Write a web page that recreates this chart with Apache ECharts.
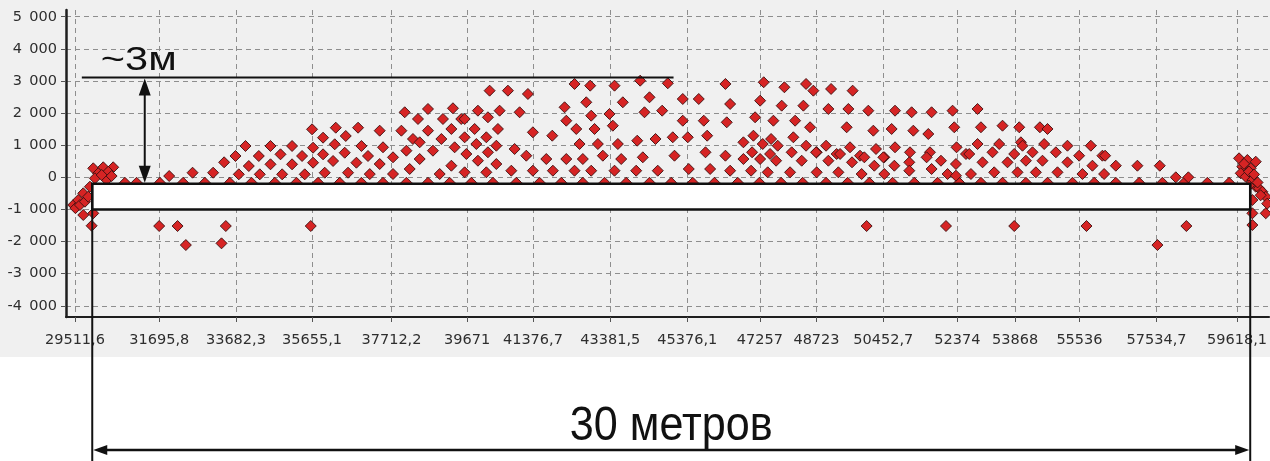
<!DOCTYPE html>
<html>
<head>
<meta charset="utf-8">
<script src="https://cdn.jsdelivr.net/npm/echarts@6/dist/echarts.min.js"></script>
<style>
  html, body { margin: 0; padding: 0; background: #ffffff; }
  #chart { width: 1270px; height: 461px; }
</style>
</head>
<body>
<div id="chart"></div>
<script>
// Station positions (mm) shown on the horizontal axis
const xTickValues = [29511.6, 31695.8, 33682.3, 35655.1, 37712.2, 39671, 41376.7, 43381.5,
  45376.1, 47257, 48723, 50452.7, 52374, 53868, 55536, 57534.7, 59618.1];
// Height ticks (mm)
const yTickValues = [-4000, -3000, -2000, -1000, 0, 1000, 2000, 3000, 4000, 5000];

// Measured points: [position, height]
const leftEdgePoints = [
  [29468, -863], [29525, -960], [29597, -707], [29641, -863], [29727, -498], [29771, -760],
  [29856, -604], [29727, -1174], [29986, -1121], [29944, -1508], [29900, -293], [29986, 280],
  [30245, 312], [30503, 312], [30115, 125], [30374, 174], [30030, -31], [30333, -84],
  [30203, 72], [30462, 40]
];

const bedSurfacePoints = [
  [30806, -170], [31109, -170], [31712, -170], [32315, -170], [32877, -170], [33524, -170],
  [34086, -170], [34689, -170], [35251, -170], [35810, -170], [36372, -170], [36933, -170],
  [37493, -170], [38099, -170], [38658, -170], [39219, -170], [39781, -170], [40341, -170],
  [40946, -170], [41549, -170], [42111, -170], [42670, -170], [43232, -170], [43793, -170],
  [44397, -170], [44959, -170], [45518, -170], [46079, -170], [46683, -170], [47244, -170],
  [47806, -170], [48365, -170], [48971, -170], [49530, -170], [50092, -170], [50695, -170],
  [51257, -170], [51860, -170], [52422, -170], [52984, -170], [53543, -170], [54149, -170],
  [54708, -170], [55356, -170], [55917, -170], [56478, -170], [57082, -170], [57685, -170],
  [58247, -170], [58850, -170], [59412, -170]
];

const risingSlopePoints = [
  [31953, 40], [32559, 143], [33092, 143], [33377, 467], [33671, 664], [33930, 975],
  [33757, 93], [34016, 352], [34275, 664], [34578, 975], [34301, 93], [34578, 405],
  [34837, 716], [35137, 975], [34880, 93], [35137, 405], [35396, 664], [35655, 1495],
  [35681, 922], [35940, 1234], [36269, 1545], [36528, 1287], [36847, 1545], [36242, 1028],
  [36501, 766], [36199, 508], [35940, 716], [35681, 455], [35465, 93], [35983, 143],
  [36587, 143], [36804, 455], [36934, 975], [37150, 100], [37104, 664]
];

const crestWestPoints = [
  [40255, 2698], [40729, 2698], [41247, 2595], [42455, 2907], [42861, 2854], [43491, 2854],
  [44156, 3009], [44871, 2928],
  [38055, 2025], [38658, 2128], [39305, 2150], [39952, 2075], [40514, 2075], [41032, 2025],
  [38399, 1816], [39046, 1816], [39520, 1816], [39608, 1816], [40211, 1869],
  [37407, 1452], [37969, 1452], [38658, 1452], [39264, 1505], [39867, 1505], [40470, 1505],
  [38269, 1193], [38443, 1090], [39005, 1193], [39608, 1246], [40170, 1246],
  [37493, 935], [38099, 829], [38787, 829], [39349, 935], [39911, 1037], [40429, 984], [40902, 882],
  [37752, 623], [38443, 570], [39652, 726], [39952, 517], [40211, 779], [41205, 673],
  [41723, 570], [42241, 570], [42670, 570], [43188, 673], [43664, 570], [44224, 623],
  [37752, 103], [38184, 259], [38961, 103], [39264, 361], [39608, 156], [40170, 156],
  [40429, 414], [40817, 206], [41376, 206], [41894, 206], [42455, 206], [42887, 206],
  [43491, 206], [44052, 206], [44611, 206], [37407, 414],
  [42197, 2181], [42759, 2336], [42887, 1919], [43361, 1972], [43706, 2336], [44267, 2025],
  [44725, 2075], [44397, 2492],
  [42241, 1763], [42500, 1505], [42973, 1505], [43447, 1607], [41376, 1402], [41878, 1296],
  [42585, 1037], [43059, 1037], [43577, 1037], [44079, 1140], [44553, 1193]
];

const crestEastPoints = [
  [46364, 2907], [47356, 2960], [47892, 2804], [48453, 2907], [48642, 2698], [49101, 2751],
  [49660, 2698],
  [45259, 2439], [45673, 2439], [46486, 2283], [47263, 2386], [47822, 2231], [48384, 2231],
  [49031, 2128], [49549, 2128], [50066, 2075], [50758, 2075], [51188, 2025], [51705, 2025],
  [52249, 2075],
  [45259, 1763], [45803, 1763], [46398, 1713], [47133, 1869], [47607, 1763], [48169, 1763],
  [48557, 1558], [49505, 1558], [50196, 1452], [50670, 1505], [51232, 1452], [51620, 1349],
  [52293, 1558],
  [45000, 1246], [45389, 1246], [45891, 1296], [46830, 1090], [47089, 1296], [47330, 1037],
  [47547, 1193], [47718, 984], [48124, 1246], [48453, 984], [48728, 779], [48971, 984],
  [49245, 726], [49592, 935], [49851, 673], [50265, 882], [50480, 623], [50758, 935],
  [51146, 779], [51663, 779], [52352, 935],
  [45044, 673], [45847, 779], [46364, 673], [46830, 570], [47055, 779], [47263, 570],
  [47521, 726], [47677, 517], [48080, 779], [48340, 517], [48712, 779], [49031, 517],
  [49334, 726], [49644, 467], [49963, 623], [50221, 361], [50455, 623], [50740, 361],
  [51128, 467], [51576, 623], [51705, 259], [51948, 517], [52336, 414], [52596, 726],
  [45414, 259], [45968, 259], [46486, 206], [47029, 206], [47459, 156], [48039, 156],
  [48728, 156], [49290, 156], [49893, 103], [50480, 103], [51128, 206], [52119, 103],
  [52336, 50]
];

const fallingSlopePoints = [
  [52896, 2128],
  [52984, 1558], [53543, 1607], [53976, 1558], [54511, 1558], [54708, 1505],
  [52896, 1037], [53457, 1037], [54019, 1090], [54061, 984], [54622, 1037], [55225, 984],
  [55831, 984],
  [52681, 726], [53284, 779], [53846, 726], [54320, 779], [54925, 779], [55528, 673],
  [56131, 673], [56201, 673],
  [53025, 467], [53672, 467], [54149, 517], [54578, 517], [55225, 467], [55872, 361],
  [56478, 361], [57037, 361], [57617, 361],
  [52725, 103], [53327, 156], [53931, 156], [54407, 156], [54967, 156], [55613, 103],
  [56175, 103], [58032, 0], [58358, 0]
];

const rightEdgePoints = [
  [59671, 592], [59886, 539], [60103, 486], [59756, 330], [59973, 280], [59714, 125],
  [59843, 19], [60016, -84], [60103, -293], [60188, -343], [60274, -449], [60362, -604],
  [60016, -707], [60362, -1121], [60016, -1121], [60016, -1486], [59800, 420], [59930, 180],
  [60060, 90], [60150, -160], [60230, -560], [60400, -820], [59930, -260]
];

const belowBedPoints = [
  [31694, -1517], [32170, -1517], [32385, -2109], [33420, -1517], [33309, -2056],
  [35621, -1517], [50022, -1517], [52078, -1517], [53846, -1517], [55718, -1517],
  [58306, -1517], [57556, -2109]
];

// Survey annotation: bed outline, crest level and dimension markers (mm)
const bedSpan = [29960, 59960];
const bedLevels = [-200, -1000];
const crestLevel = 3110;
const crestLineSpan = [29690, 45020];
const heightArrowPos = 31320;
const heightLabel = '~3м';
const lengthLabel = '30 метров';

const xRange = [29280, 60450];
const yRange = [-4350, 5210];

function fmtX(v) {
  return String(v).replace('.', ',');
}
function fmtY(v) {
  // thousands separated by an en space
  const s = String(Math.abs(v));
  const g = s.length > 3 ? s.slice(0, -3) + '\u2002' + s.slice(-3) : s;
  return (v < 0 ? '-' : '') + g;
}

const allPoints = [].concat(leftEdgePoints, bedSurfacePoints, risingSlopePoints,
  crestWestPoints, crestEastPoints, fallingSlopePoints, rightEdgePoints, belowBedPoints);

const chart = echarts.init(document.getElementById('chart'), null, { renderer: 'canvas' });

const gridLine = { color: '#8e8e8e', width: 1, type: [5, 4] };
const labelFont = { color: '#2e2e2e', fontFamily: 'DejaVu Sans', fontSize: 14.5 };

chart.setOption({
  animation: false,
  backgroundColor: '#ffffff',
  grid: { left: 66, right: 0, top: 10, bottom: 144, containLabel: false },
  xAxis: {
    type: 'value',
    min: xRange[0],
    max: xRange[1],
    axisLine: { show: true, onZero: false, lineStyle: { color: '#1e1e1e', width: 2 } },
    axisTick: { show: true, customValues: xTickValues, length: 5, lineStyle: { color: '#555' } },
    axisLabel: Object.assign({ customValues: xTickValues, formatter: fmtX, margin: 16 }, labelFont),
    splitLine: { show: true, lineStyle: gridLine }
  },
  yAxis: {
    type: 'value',
    min: yRange[0],
    max: yRange[1],
    axisLine: { show: true, onZero: false, lineStyle: { color: '#1e1e1e', width: 2.5 } },
    axisTick: { show: true, customValues: yTickValues, length: 5, lineStyle: { color: '#555' } },
    axisLabel: Object.assign({ customValues: yTickValues, formatter: fmtY, margin: 9 }, labelFont),
    splitLine: { show: true, lineStyle: gridLine }
  },
  series: [{
    type: 'scatter',
    data: allPoints,
    symbol: 'diamond',
    symbolSize: 11,
    silent: true,
    itemStyle: { color: '#d62424', borderColor: '#3a1010', borderWidth: 0.9, opacity: 1 }
  }]
});

function toPx(x, y) {
  return chart.convertToPixel({ gridIndex: 0 }, [x, y]);
}

function arrowHead(tipX, tipY, dx, dy, len, half) {
  // triangle pointing along (dx, dy)
  const bx = tipX - dx * len, by = tipY - dy * len;
  const nx = -dy, ny = dx;
  return {
    type: 'polygon',
    z: 120,
    silent: true,
    shape: { points: [[tipX, tipY], [bx + nx * half, by + ny * half], [bx - nx * half, by - ny * half]] },
    style: { fill: '#111' }
  };
}

const topLeft = toPx(bedSpan[0], bedLevels[0]);
const bottomRight = toPx(bedSpan[1], bedLevels[1]);
const crestA = toPx(crestLineSpan[0], crestLevel);
const crestB = toPx(crestLineSpan[1], crestLevel);
const arrowX = toPx(heightArrowPos, 0)[0];
const pageBottom = 461;
const dimY = 450;
const ink = { stroke: '#111', lineWidth: 2 };

const elements = [
  // light panel behind the plot and its labels
  { type: 'rect', z: -100, silent: true, shape: { x: 0, y: 0, width: 1270, height: 357 },
    style: { fill: '#f0f0f0' } },
  // bed outline
  { type: 'rect', z: 110, silent: true,
    shape: { x: topLeft[0], y: topLeft[1], width: bottomRight[0] - topLeft[0], height: bottomRight[1] - topLeft[1] },
    style: { fill: '#ffffff', stroke: '#111', lineWidth: 2.5 } },
  // extension lines to the length dimension
  { type: 'line', z: 115, silent: true, shape: { x1: topLeft[0], y1: topLeft[1], x2: topLeft[0], y2: pageBottom }, style: ink },
  { type: 'line', z: 115, silent: true, shape: { x1: bottomRight[0], y1: topLeft[1], x2: bottomRight[0], y2: pageBottom }, style: ink },
  // crest level
  { type: 'line', z: 115, silent: true, shape: { x1: crestA[0], y1: crestA[1], x2: crestB[0], y2: crestB[1] }, style: ink },
  // height dimension
  { type: 'line', z: 115, silent: true, shape: { x1: arrowX, y1: crestA[1] + 8, x2: arrowX, y2: topLeft[1] - 8 }, style: ink },
  arrowHead(arrowX, crestA[1] + 1, 0, -1, 17, 6),
  arrowHead(arrowX, topLeft[1] - 1, 0, 1, 17, 6),
  { type: 'text', z: 120, silent: true, x: arrowX - 6, y: crestA[1], scaleX: 1.22,
    style: { text: heightLabel, fontFamily: 'Liberation Sans', fontSize: 34, fill: '#111',
      textAlign: 'center', align: 'center', textVerticalAlign: 'bottom', verticalAlign: 'bottom' } },
  // length dimension
  { type: 'line', z: 115, silent: true, shape: { x1: topLeft[0] + 8, y1: dimY, x2: bottomRight[0] - 8, y2: dimY },
    style: { stroke: '#111', lineWidth: 2.5 } },
  arrowHead(topLeft[0] + 1, dimY, -1, 0, 14, 5),
  arrowHead(bottomRight[0] - 1, dimY, 1, 0, 14, 5),
  { type: 'text', z: 120, silent: true, x: (topLeft[0] + bottomRight[0]) / 2, y: 451, scaleX: 0.88,
    style: { text: lengthLabel, fontFamily: 'Liberation Sans', fontSize: 49, fill: '#111',
      textAlign: 'center', align: 'center', textVerticalAlign: 'bottom', verticalAlign: 'bottom' } }
];

chart.setOption({ graphic: { elements: elements } });
</script>
</body>
</html>
